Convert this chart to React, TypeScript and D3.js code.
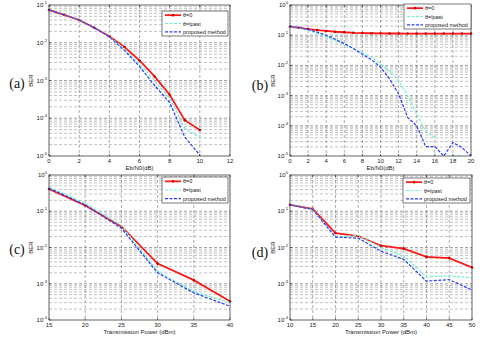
import React, { useEffect, useRef } from 'react';
import * as d3 from 'd3';

// ---- data ----
const xA = [0, 1, 2, 3, 4, 5, 6, 7, 8, 9, 10];
const redA = [7.4e-2, 5.5e-2, 4.0e-2, 2.5e-2, 1.49e-2, 7.7e-3, 3.4e-3, 1.28e-3, 4.2e-4, 8.9e-5, 4.9e-5];
const cyanA = [7.4e-2, 5.5e-2, 4.0e-2, 2.5e-2, 1.46e-2, 7.0e-3, 2.7e-3, 1.0e-3, 3.4e-4, 5.4e-5, 3.1e-5];
const blueA = [7.4e-2, 5.5e-2, 4.0e-2, 2.5e-2, 1.43e-2, 6.3e-3, 2.36e-3, 7.4e-4, 2.6e-4, 3.2e-5, 1.06e-5];

const xB = [0, 1, 2, 3, 4, 5, 6, 7, 8, 9, 10, 11, 12, 13, 14, 15, 16, 17, 18, 19, 20];
const redB = [0.19, 0.175, 0.16, 0.148, 0.138, 0.13, 0.125, 0.12, 0.118, 0.116, 0.115, 0.114, 0.114, 0.113, 0.113, 0.113, 0.113, 0.113, 0.113, 0.113, 0.113];
const cyanB = [0.19, 0.17, 0.147, 0.113, 0.088, 0.068, 0.05, 0.036, 0.026, 0.019, 0.0114, 6.5e-3, 3.2e-3, 1.0e-3, 2.4e-4, 6.6e-5, 4.1e-5, 0, 1e-5, 1e-5, 0];
const blueB = [0.2, 0.18, 0.155, 0.126, 0.1, 0.0736, 0.0528, 0.036, 0.0233, 0.0155, 8.8e-3, 3.6e-3, 1.14e-3, 1.9e-4, 1.0e-4, 2.05e-5, 2.05e-5, 1e-5, 2.8e-5, 1.9e-5, 1e-5];

const xC = [15, 20, 25, 30, 35, 40];
const redC = [0.41, 0.144, 0.038, 3.6e-3, 1.26e-3, 3.3e-4];
const cyanC = [0.46, 0.167, 0.04, 2.2e-3, 6.0e-4, 3.05e-4];
const blueC = [0.43, 0.15, 0.034, 2.0e-3, 5.6e-4, 2.4e-4];

const xD = [10, 15, 20, 25, 30, 35, 40, 45, 50];
const redD = [0.15, 0.116, 0.025, 0.0207, 0.0112, 9.3e-3, 5.5e-3, 5.1e-3, 2.8e-3];
const cyanD = [0.15, 0.116, 0.0194, 0.0216, 0.01, 5.8e-3, 1.55e-3, 1.65e-3, 1.45e-3];
const blueD = [0.15, 0.112, 0.0194, 0.018, 7.9e-3, 4.7e-3, 1.18e-3, 1.3e-3, 6.7e-4];

const legendNames = ['θ=0', 'θ=lpast', 'proposed method'];
const xTicksA = [0, 2, 4, 6, 8, 10, 12];
const xTicksB = [0, 2, 4, 6, 8, 10, 12, 14, 16, 18, 20];
const xTicksC = [15, 20, 25, 30, 35, 40];
const xTicksD = [10, 15, 20, 25, 30, 35, 40, 45, 50];

const RED = '#ff1a1a';
const CYAN = '#6ff2d6';
const BLUE = '#2a3cff';

const panels = [
  { tag: '(a)', x: xA, ys: [redA, cyanA, blueA], xDom: [0, 12], xTicks: xTicksA, yExp: [-5, -1],
    box: [49, 5, 230, 156], legend: [162, 11, 228, 36], xLabel: 'Eb/N0(dB)', tagPos: [17, 88], berX: 33 },
  { tag: '(b)', x: xB, ys: [redB, cyanB, blueB], xDom: [0, 20], xTicks: xTicksB, yExp: [-5, 0],
    box: [290, 5, 471, 156], legend: [404, 4, 471, 29], xLabel: 'Eb/N0(dB)', tagPos: [260, 90], berX: 275 },
  { tag: '(c)', x: xC, ys: [redC, cyanC, blueC], xDom: [15, 40], xTicks: xTicksC, yExp: [-4, 0],
    box: [49, 175, 230, 320], legend: [162, 177, 228, 203], xLabel: 'Transmission Power (dBm)', tagPos: [17, 254], berX: 33 },
  { tag: '(d)', x: xD, ys: [redD, cyanD, blueD], xDom: [10, 50], xTicks: xTicksD, yExp: [-4, 0],
    box: [290, 175, 472, 320], legend: [403, 178, 470, 203], xLabel: 'Transmission Power (dBm)', tagPos: [260, 257], berX: 275 },
];

const App = () => {
  const ref = useRef<SVGSVGElement>(null);

  useEffect(() => {
    const svg = d3.select(ref.current);
    svg.selectAll('*').remove();
    const styles = [
      { color: RED, width: 1.8, dash: null, marker: true },
      { color: CYAN, width: 1.2, dash: '3,1.5', marker: false },
      { color: BLUE, width: 1.2, dash: '3,1.5', marker: false },
    ];

    panels.forEach((p, pi) => {
      const [x0, y0, x1, y1] = p.box;
      const x = d3.scaleLinear().domain(p.xDom).range([x0, x1]);
      const y = d3.scaleLog().domain([Math.pow(10, p.yExp[0]), Math.pow(10, p.yExp[1])]).range([y1, y0]);
      const g = svg.append('g');

      // minor + major horizontal grid
      for (let e = p.yExp[0]; e < p.yExp[1]; e++) {
        for (let m = 2; m <= 9; m++) {
          const yy = y(m * Math.pow(10, e));
          g.append('line').attr('x1', x0).attr('x2', x1).attr('y1', yy).attr('y2', yy)
            .attr('stroke', '#9a9a9a').attr('stroke-width', 0.6).attr('stroke-dasharray', '3,2');
        }
      }
      for (let e = p.yExp[0] + 1; e < p.yExp[1]; e++) {
        const yy = y(Math.pow(10, e));
        g.append('line').attr('x1', x0).attr('x2', x1).attr('y1', yy).attr('y2', yy)
          .attr('stroke', '#666').attr('stroke-width', 0.6).attr('stroke-dasharray', '3,2');
      }
      p.xTicks.slice(1, -1).forEach(t => {
        g.append('line').attr('x1', x(t)).attr('x2', x(t)).attr('y1', y0).attr('y2', y1)
          .attr('stroke', '#777').attr('stroke-width', 0.6).attr('stroke-dasharray', '3,2');
      });

      // series
      const clipId = `clip${pi}`;
      svg.append('clipPath').attr('id', clipId).append('rect')
        .attr('x', x0).attr('y', y0 - 1).attr('width', x1 - x0).attr('height', y1 - y0 + 1);
      p.ys.forEach((vals, si) => {
        const st = styles[si];
        const pts = p.x.map((xv, i) => [xv, vals[i]] as [number, number]);
        const line = d3.line<[number, number]>()
          .defined(d => d[1] > 0)
          .x(d => x(d[0]))
          .y(d => y(d[1]));
        g.append('path').datum(pts)
          .attr('clip-path', `url(#${clipId})`)
          .attr('fill', 'none').attr('stroke', st.color).attr('stroke-width', st.width)
          .attr('stroke-dasharray', st.dash).attr('d', line);
        if (st.marker) {
          g.selectAll(null).data(pts).enter().append('circle')
            .attr('cx', d => x(d[0])).attr('cy', d => y(d[1])).attr('r', 1.3)
            .attr('fill', '#cc0000');
        }
      });

      // box
      g.append('rect').attr('x', x0).attr('y', y0).attr('width', x1 - x0).attr('height', y1 - y0)
        .attr('fill', 'none').attr('stroke', '#222').attr('stroke-width', 0.7);

      // x ticks and labels
      p.xTicks.forEach(t => {
        g.append('line').attr('x1', x(t)).attr('x2', x(t)).attr('y1', y1).attr('y2', y1 - 2)
          .attr('stroke', '#222').attr('stroke-width', 0.6);
        g.append('line').attr('x1', x(t)).attr('x2', x(t)).attr('y1', y0).attr('y2', y0 + 2)
          .attr('stroke', '#222').attr('stroke-width', 0.6);
        g.append('text').attr('x', x(t)).attr('y', y1 + 7).attr('text-anchor', 'middle')
          .attr('font-size', 6).attr('font-family', 'Liberation Sans, Arial, sans-serif').attr('fill', '#222')
          .text(String(t));
      });
      g.append('text').attr('x', (x0 + x1) / 2).attr('y', y1 + 13.5).attr('text-anchor', 'middle')
        .attr('font-size', 6).attr('font-family', 'Liberation Sans, Arial, sans-serif').attr('fill', '#222')
        .text(p.xLabel);

      // y tick labels
      for (let e = p.yExp[0]; e <= p.yExp[1]; e++) {
        const yy = y(Math.pow(10, e));
        g.append('line').attr('x1', x0).attr('x2', x0 + 2).attr('y1', yy).attr('y2', yy)
          .attr('stroke', '#222').attr('stroke-width', 0.6);
        const t = g.append('text').attr('x', x0 - 2).attr('y', yy + 2).attr('text-anchor', 'end')
          .attr('font-size', 6).attr('font-family', 'Liberation Sans, Arial, sans-serif').attr('fill', '#222');
        t.append('tspan').text('10');
        t.append('tspan').attr('dy', -3).attr('font-size', 4.2).text(String(e));
      }
      g.append('text')
        .attr('transform', `translate(${p.berX},${(y0 + y1) / 2}) rotate(-90)`)
        .attr('text-anchor', 'middle').attr('font-size', 6)
        .attr('font-family', 'Liberation Sans, Arial, sans-serif').attr('fill', '#222').text('BER');

      // panel tag
      g.append('text').attr('x', p.tagPos[0]).attr('y', p.tagPos[1]).attr('text-anchor', 'middle')
        .attr('font-size', 14).attr('font-family', 'Liberation Serif, Times New Roman, serif').attr('fill', '#111')
        .text(p.tag);

      // legend
      const [lx0, ly0, lx1, ly1] = p.legend;
      g.append('rect').attr('x', lx0).attr('y', ly0).attr('width', lx1 - lx0).attr('height', ly1 - ly0)
        .attr('fill', '#fff').attr('stroke', '#222').attr('stroke-width', 0.6);
      const rowH = (ly1 - ly0) / 3;
      legendNames.forEach((name, i) => {
        const st = styles[i];
        const ly = ly0 + rowH * (i + 0.5);
        g.append('line').attr('x1', lx0 + 3).attr('x2', lx0 + 19).attr('y1', ly).attr('y2', ly)
          .attr('stroke', st.color).attr('stroke-width', st.width).attr('stroke-dasharray', st.dash);
        if (st.marker) {
          g.append('circle').attr('cx', lx0 + 11).attr('cy', ly).attr('r', 1.3).attr('fill', '#cc0000');
        }
        g.append('text').attr('x', lx0 + 21).attr('y', ly + 2).attr('font-size', 5.5)
          .attr('font-family', 'Liberation Sans, Arial, sans-serif').attr('fill', '#222').text(name);
      });
    });
  }, []);

  return (
    <svg ref={ref} width={485} height={339}
      style={{ position: 'absolute', left: 0, top: 0, background: '#fff' }} />
  );
};

export default App;
